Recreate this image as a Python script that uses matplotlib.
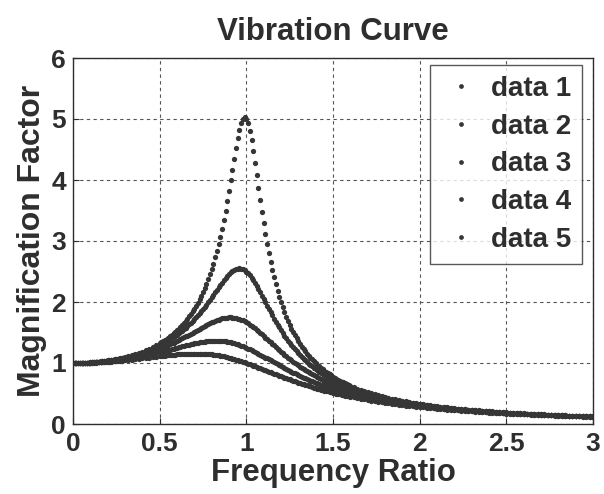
import numpy as np
import matplotlib
matplotlib.use("Agg")
import matplotlib.pyplot as plt

# ---------------- data ----------------
# frequency ratio grid: fine spacing around the resonance, coarser in flat parts
freq_ratio = np.round(np.concatenate([
    np.arange(0.00, 0.305, 0.01),
    np.arange(0.32, 0.485, 0.02),
    np.arange(0.50, 1.605, 0.01),
    np.arange(1.62, 3.005, 0.02),
]), 2)

series_names = ["data 1", "data 2", "data 3", "data 4", "data 5"]

mag_1 = [
    # 0.00 - 0.30
    1.000, 1.000, 1.000, 1.001, 1.002, 1.002, 1.004, 1.005, 1.006, 1.008,
    1.010, 1.012, 1.014, 1.017, 1.020, 1.023, 1.026, 1.029, 1.033, 1.037,
    1.041, 1.045, 1.050, 1.055, 1.060, 1.065, 1.071, 1.077, 1.083, 1.090, 1.097,
    # 0.32 - 0.48
    1.111, 1.127, 1.145, 1.164, 1.185, 1.208, 1.233, 1.260, 1.289,
    # 0.50 - 1.60
    1.322, 1.339, 1.357, 1.376, 1.396, 1.416, 1.438, 1.461, 1.484, 1.510,
    1.536, 1.563, 1.593, 1.623, 1.655, 1.689, 1.725, 1.763, 1.803, 1.846,
    1.891, 1.939, 1.989, 2.043, 2.101, 2.162, 2.228, 2.298, 2.372, 2.453,
    2.538, 2.631, 2.730, 2.836, 2.950, 3.073, 3.204, 3.345, 3.495, 3.654,
    3.821, 3.995, 4.172, 4.350, 4.523, 4.682, 4.822, 4.931, 5.001, 5.025,
    5.000, 4.927, 4.808, 4.655, 4.476, 4.279, 4.075, 3.869, 3.667, 3.473,
    3.288, 3.114, 2.950, 2.798, 2.656, 2.525, 2.402, 2.289, 2.184, 2.086,
    1.995, 1.911, 1.832, 1.758, 1.689, 1.625, 1.564, 1.507, 1.454, 1.404,
    1.356, 1.311, 1.269, 1.229, 1.191, 1.155, 1.121, 1.089, 1.058, 1.028,
    1.000, 0.973, 0.948, 0.923, 0.900, 0.877, 0.856, 0.835, 0.815, 0.796,
    0.778, 0.760, 0.743, 0.727, 0.711, 0.696, 0.682, 0.668, 0.654, 0.641,
    0.628,
    # 1.62 - 3.00
    0.604, 0.581, 0.560, 0.540, 0.521, 0.503, 0.486, 0.470, 0.455, 0.441,
    0.427, 0.414, 0.402, 0.390, 0.379, 0.369, 0.358, 0.349, 0.339, 0.330,
    0.322, 0.314, 0.306, 0.298, 0.291, 0.284, 0.277, 0.271, 0.265, 0.259,
    0.253, 0.247, 0.242, 0.237, 0.232, 0.227, 0.222, 0.218, 0.213, 0.209,
    0.205, 0.201, 0.197, 0.193, 0.190, 0.186, 0.183, 0.179, 0.176, 0.173,
    0.170, 0.167, 0.164, 0.161, 0.158, 0.156, 0.153, 0.151, 0.148, 0.146,
    0.143, 0.141, 0.139, 0.137, 0.135, 0.132, 0.130, 0.128, 0.127, 0.125,
]

mag_2 = [
    1.000, 1.000, 1.000, 1.001, 1.001, 1.002, 1.003, 1.005, 1.006, 1.008,
    1.009, 1.011, 1.013, 1.016, 1.018, 1.021, 1.024, 1.027, 1.031, 1.034,
    1.038, 1.042, 1.046, 1.051, 1.056, 1.061, 1.066, 1.071, 1.077, 1.083, 1.090,
    1.103, 1.118, 1.134, 1.151, 1.170, 1.190, 1.212, 1.235, 1.261,
    1.288, 1.303, 1.318, 1.334, 1.350, 1.367, 1.385, 1.403, 1.423, 1.442,
    1.463, 1.485, 1.507, 1.530, 1.554, 1.579, 1.605, 1.632, 1.660, 1.689,
    1.719, 1.750, 1.782, 1.815, 1.850, 1.885, 1.922, 1.959, 1.997, 2.036,
    2.076, 2.116, 2.157, 2.198, 2.239, 2.279, 2.318, 2.356, 2.392, 2.426,
    2.457, 2.484, 2.508, 2.527, 2.541, 2.549, 2.552, 2.548, 2.538, 2.522,
    2.500, 2.472, 2.439, 2.401, 2.359, 2.313, 2.264, 2.213, 2.160, 2.106,
    2.051, 1.996, 1.941, 1.887, 1.833, 1.780, 1.728, 1.678, 1.629, 1.582,
    1.536, 1.491, 1.448, 1.407, 1.367, 1.329, 1.292, 1.256, 1.222, 1.189,
    1.157, 1.127, 1.098, 1.070, 1.042, 1.016, 0.991, 0.967, 0.944, 0.921,
    0.900, 0.879, 0.859, 0.840, 0.821, 0.803, 0.785, 0.768, 0.752, 0.736,
    0.721, 0.707, 0.692, 0.678, 0.665, 0.652, 0.640, 0.627, 0.616, 0.604,
    0.593,
    0.572, 0.552, 0.533, 0.515, 0.498, 0.482, 0.467, 0.452, 0.438, 0.425,
    0.413, 0.401, 0.389, 0.378, 0.368, 0.358, 0.348, 0.339, 0.331, 0.322,
    0.314, 0.306, 0.299, 0.292, 0.285, 0.278, 0.272, 0.266, 0.260, 0.254,
    0.248, 0.243, 0.238, 0.233, 0.228, 0.223, 0.219, 0.214, 0.210, 0.206,
    0.202, 0.198, 0.194, 0.191, 0.187, 0.184, 0.180, 0.177, 0.174, 0.171,
    0.168, 0.165, 0.162, 0.159, 0.157, 0.154, 0.152, 0.149, 0.147, 0.144,
    0.142, 0.140, 0.138, 0.135, 0.133, 0.131, 0.129, 0.127, 0.126, 0.124,
]

mag_3 = [
    1.000, 1.000, 1.000, 1.001, 1.001, 1.002, 1.003, 1.004, 1.005, 1.007,
    1.008, 1.010, 1.012, 1.014, 1.016, 1.019, 1.021, 1.024, 1.027, 1.030,
    1.034, 1.037, 1.041, 1.045, 1.049, 1.053, 1.058, 1.063, 1.068, 1.073, 1.078,
    1.089, 1.102, 1.115, 1.129, 1.145, 1.161, 1.179, 1.197, 1.217,
    1.238, 1.249, 1.260, 1.272, 1.284, 1.296, 1.309, 1.321, 1.335, 1.348,
    1.362, 1.376, 1.390, 1.405, 1.420, 1.435, 1.450, 1.466, 1.482, 1.498,
    1.514, 1.530, 1.546, 1.562, 1.578, 1.593, 1.609, 1.624, 1.639, 1.653,
    1.667, 1.680, 1.692, 1.703, 1.713, 1.722, 1.730, 1.737, 1.742, 1.745,
    1.747, 1.747, 1.745, 1.742, 1.736, 1.729, 1.720, 1.709, 1.697, 1.683,
    1.667, 1.649, 1.630, 1.610, 1.589, 1.567, 1.543, 1.519, 1.495, 1.470,
    1.444, 1.418, 1.392, 1.365, 1.339, 1.313, 1.287, 1.261, 1.235, 1.210,
    1.185, 1.161, 1.136, 1.113, 1.089, 1.067, 1.044, 1.023, 1.001, 0.981,
    0.960, 0.941, 0.921, 0.902, 0.884, 0.866, 0.849, 0.832, 0.816, 0.800,
    0.784, 0.769, 0.754, 0.740, 0.726, 0.712, 0.699, 0.686, 0.673, 0.661,
    0.649, 0.638, 0.626, 0.615, 0.605, 0.594, 0.584, 0.574, 0.565, 0.555,
    0.546,
    0.528, 0.511, 0.495, 0.480, 0.466, 0.452, 0.439, 0.426, 0.414, 0.402,
    0.391, 0.380, 0.370, 0.360, 0.351, 0.342, 0.334, 0.325, 0.317, 0.310,
    0.302, 0.295, 0.288, 0.282, 0.275, 0.269, 0.263, 0.257, 0.252, 0.246,
    0.241, 0.236, 0.231, 0.227, 0.222, 0.218, 0.213, 0.209, 0.205, 0.201,
    0.197, 0.194, 0.190, 0.187, 0.183, 0.180, 0.177, 0.174, 0.171, 0.168,
    0.165, 0.162, 0.159, 0.157, 0.154, 0.151, 0.149, 0.147, 0.144, 0.142,
    0.140, 0.138, 0.136, 0.133, 0.131, 0.129, 0.128, 0.126, 0.124, 0.122,
]

mag_4 = [
    1.000, 1.000, 1.000, 1.001, 1.001, 1.002, 1.003, 1.003, 1.004, 1.006,
    1.007, 1.008, 1.010, 1.012, 1.013, 1.015, 1.018, 1.020, 1.022, 1.025,
    1.028, 1.030, 1.033, 1.037, 1.040, 1.043, 1.047, 1.051, 1.054, 1.058, 1.063,
    1.071, 1.081, 1.091, 1.101, 1.113, 1.124, 1.137, 1.149, 1.163,
    1.176, 1.184, 1.191, 1.198, 1.205, 1.213, 1.220, 1.228, 1.235, 1.243,
    1.250, 1.258, 1.265, 1.272, 1.280, 1.287, 1.294, 1.301, 1.308, 1.314,
    1.320, 1.326, 1.332, 1.337, 1.342, 1.347, 1.351, 1.354, 1.357, 1.360,
    1.362, 1.363, 1.364, 1.364, 1.363, 1.362, 1.359, 1.356, 1.353, 1.348,
    1.343, 1.337, 1.330, 1.323, 1.314, 1.305, 1.295, 1.285, 1.274, 1.262,
    1.250, 1.237, 1.224, 1.210, 1.196, 1.182, 1.167, 1.152, 1.137, 1.121,
    1.105, 1.090, 1.074, 1.058, 1.042, 1.026, 1.010, 0.994, 0.978, 0.963,
    0.947, 0.932, 0.916, 0.901, 0.886, 0.872, 0.857, 0.843, 0.829, 0.815,
    0.801, 0.788, 0.775, 0.762, 0.749, 0.737, 0.724, 0.712, 0.701, 0.689,
    0.678, 0.667, 0.656, 0.645, 0.635, 0.625, 0.615, 0.605, 0.596, 0.586,
    0.577, 0.568, 0.559, 0.551, 0.542, 0.534, 0.526, 0.518, 0.511, 0.503,
    0.496,
    0.481, 0.468, 0.454, 0.442, 0.430, 0.418, 0.407, 0.396, 0.386, 0.376,
    0.366, 0.357, 0.348, 0.339, 0.331, 0.323, 0.316, 0.308, 0.301, 0.294,
    0.288, 0.281, 0.275, 0.269, 0.263, 0.258, 0.252, 0.247, 0.242, 0.237,
    0.232, 0.227, 0.223, 0.219, 0.214, 0.210, 0.206, 0.202, 0.199, 0.195,
    0.191, 0.188, 0.185, 0.181, 0.178, 0.175, 0.172, 0.169, 0.166, 0.163,
    0.161, 0.158, 0.155, 0.153, 0.150, 0.148, 0.146, 0.143, 0.141, 0.139,
    0.137, 0.135, 0.133, 0.131, 0.129, 0.127, 0.125, 0.123, 0.122, 0.120,
]

mag_5 = [
    1.000, 1.000, 1.000, 1.000, 1.001, 1.001, 1.002, 1.002, 1.003, 1.004,
    1.005, 1.006, 1.007, 1.008, 1.010, 1.011, 1.013, 1.014, 1.016, 1.018,
    1.020, 1.022, 1.024, 1.026, 1.028, 1.031, 1.033, 1.036, 1.038, 1.041, 1.044,
    1.049, 1.055, 1.062, 1.068, 1.075, 1.082, 1.089, 1.096, 1.103,
    1.109, 1.113, 1.116, 1.119, 1.123, 1.126, 1.129, 1.132, 1.135, 1.137,
    1.140, 1.142, 1.145, 1.147, 1.149, 1.150, 1.152, 1.153, 1.154, 1.154,
    1.155, 1.155, 1.154, 1.154, 1.153, 1.152, 1.150, 1.148, 1.146, 1.143,
    1.140, 1.136, 1.133, 1.128, 1.124, 1.118, 1.113, 1.107, 1.101, 1.094,
    1.087, 1.080, 1.072, 1.064, 1.056, 1.047, 1.038, 1.029, 1.020, 1.010,
    1.000, 0.990, 0.980, 0.969, 0.959, 0.948, 0.937, 0.926, 0.915, 0.904,
    0.893, 0.882, 0.871, 0.860, 0.848, 0.837, 0.826, 0.815, 0.804, 0.793,
    0.782, 0.772, 0.761, 0.750, 0.740, 0.730, 0.719, 0.709, 0.699, 0.689,
    0.680, 0.670, 0.660, 0.651, 0.642, 0.633, 0.624, 0.615, 0.606, 0.598,
    0.589, 0.581, 0.573, 0.565, 0.557, 0.549, 0.541, 0.534, 0.527, 0.519,
    0.512, 0.505, 0.498, 0.492, 0.485, 0.478, 0.472, 0.466, 0.460, 0.454,
    0.448,
    0.436, 0.425, 0.414, 0.403, 0.393, 0.384, 0.374, 0.365, 0.357, 0.348,
    0.340, 0.332, 0.324, 0.317, 0.310, 0.303, 0.296, 0.290, 0.283, 0.277,
    0.272, 0.266, 0.260, 0.255, 0.250, 0.245, 0.240, 0.235, 0.230, 0.226,
    0.222, 0.217, 0.213, 0.209, 0.205, 0.202, 0.198, 0.194, 0.191, 0.188,
    0.184, 0.181, 0.178, 0.175, 0.172, 0.169, 0.166, 0.164, 0.161, 0.158,
    0.156, 0.153, 0.151, 0.148, 0.146, 0.144, 0.142, 0.140, 0.137, 0.135,
    0.133, 0.131, 0.129, 0.128, 0.126, 0.124, 0.122, 0.120, 0.119, 0.117,
]

x_ticks = [0, 0.5, 1, 1.5, 2, 2.5, 3]
x_tick_labels = ["0", "0.5", "1", "1.5", "2", "2.5", "3"]
y_ticks = [0, 1, 2, 3, 4, 5, 6]
y_tick_labels = ["0", "1", "2", "3", "4", "5", "6"]

# ---------------- style ----------------
plt.rcParams["font.family"] = ["Liberation Sans", "DejaVu Sans"]
plt.rcParams["font.weight"] = "bold"
ink = "#2e2e2e"
dot_color = "#363636"
grid_color = "#555555"

fig = plt.figure(figsize=(6.04, 4.94), dpi=100)
fig.patch.set_facecolor("white")
ax = fig.add_axes([73 / 604, 1 - 424 / 494, (593 - 73) / 604, (424 - 58) / 494])

for name, vals in zip(series_names, [mag_1, mag_2, mag_3, mag_4, mag_5]):
    ax.plot(freq_ratio, vals, linestyle="none", marker="o", markersize=3.8,
            markeredgewidth=0, color=dot_color, label=name)

ax.set_xlim(0, 3)
ax.set_ylim(0, 6)
ax.set_xticks(x_ticks)
ax.set_xticklabels(x_tick_labels)
ax.set_yticks(y_ticks)
ax.set_yticklabels(y_tick_labels)
ax.tick_params(direction="in", length=4, width=0.8, colors=ink, labelsize=19)
ax.tick_params(axis="x", pad=6)
ax.tick_params(axis="y", pad=5)
for lab in ax.get_xticklabels() + ax.get_yticklabels():
    lab.set_fontweight("bold")
    lab.set_color(ink)

ax.grid(True, linestyle=(0, (3.0, 3.0)), linewidth=0.8, color=grid_color)
for sp in ax.spines.values():
    sp.set_color(ink)
    sp.set_linewidth(1.0)

ax.set_title("Vibration Curve", fontsize=22.5, fontweight="bold", color=ink, pad=13)
ax.set_xlabel("Frequency Ratio", fontsize=22.5, fontweight="bold", color=ink, labelpad=1)
ax.set_ylabel("Magnification Factor", fontsize=23, fontweight="bold", color=ink, labelpad=3)

leg = ax.legend(loc="upper right", bbox_to_anchor=(582 / 604, 1 - 65 / 494),
                bbox_transform=fig.transFigure, borderaxespad=0,
                fontsize=20, frameon=True, fancybox=False, edgecolor=ink,
                handlelength=1.5, handletextpad=0.3, labelspacing=0.42,
                borderpad=0.4, markerscale=0.9)
leg.get_frame().set_linewidth(1.0)
for t in leg.get_texts():
    t.set_color(ink)
    t.set_fontweight("bold")

fig.savefig("out.png", dpi=100, facecolor="white")
